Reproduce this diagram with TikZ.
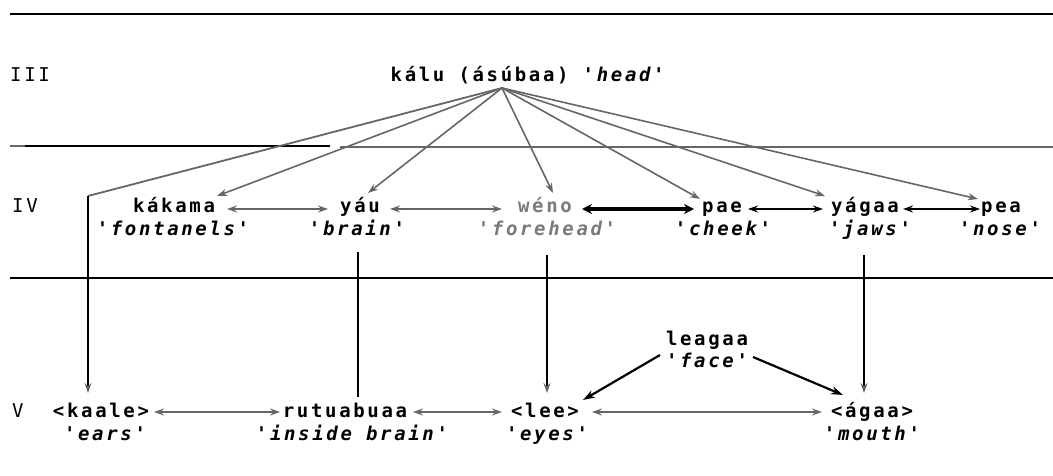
\documentclass[tikz,border=0pt]{standalone}
\usepackage{fontspec}
\newfontfamily\mono[LetterSpace=14,ItalicFont={DejaVu Sans Mono Oblique},BoldFont={DejaVu Sans Mono Bold},BoldItalicFont={DejaVu Sans Mono Bold Oblique}]{DejaVu Sans Mono}
\usetikzlibrary{arrows.meta,calc}
\definecolor{lgray}{HTML}{666666}
\definecolor{tgray}{HTML}{7a7a7a}
\begin{document}
\begin{tikzpicture}[x=1pt,y=-1pt,
  word/.style={anchor=base,inner sep=0pt,font=\mono\bfseries\fontsize{19}{22}\selectfont},
  gloss/.style={anchor=base,inner sep=0pt,font=\mono\bfseries\itshape\fontsize{19}{22}\selectfont},
  lvl/.style={anchor=base west,inner sep=0pt,font=\mono\fontsize{19}{22}\selectfont},
  rule/.style={line width=2.2pt,black},
  grule/.style={line width=1.8pt,lgray},
  garrow/.style={line width=1.6pt,lgray,-{Stealth[length=10pt,width=7pt]}},
  gdarrow/.style={line width=1.6pt,lgray,{Stealth[length=10pt,width=7pt]}-{Stealth[length=10pt,width=7pt]}},
  bdarrow/.style={line width=1.8pt,black,{Stealth[length=10pt,width=7pt]}-{Stealth[length=10pt,width=7pt]}},
  thickdarrow/.style={line width=4.5pt,black,{Stealth[length=10pt,width=10pt]}-{Stealth[length=10pt,width=10pt]}},
  vline/.style={line width=2.2pt,black},
  varrow/.style={line width=2.2pt,black,-{Stealth[length=10pt,width=7pt,lgray]}},
  barrow/.style={line width=2.2pt,black,-{Stealth[length=12pt,width=8pt]}}]
\useasboundingbox (0,0) rectangle (1053,476);
% horizontal rules
\draw[rule] (10,14) -- (1053,14);
\draw[grule] (10,146) -- (25,146);
\draw[rule] (25,146) -- (330,146);
\draw[grule] (340,147) -- (1053,147);
\draw[rule] (10,278) -- (1053,278);
% level labels
\node[lvl] (lIII) at (10,82) {III};
\node[lvl] (lIV) at (12,213) {IV};
\node[lvl] (lV) at (12,417) {V};
% level III
\node[word] (head) at (529,82) {kálu (ásúbaa) \textit{'head'}};
\coordinate (apex) at (502,88);
% level IV
\node[word] (kakama) at (174,213) {kákama};
\node[gloss] (gkakama) at (173,236) {'fontanels'};
\node[word] (yau) at (360,213) {yáu};
\node[gloss] (gyau) at (357,236) {'brain'};
\node[word,text=tgray] (weno) at (545,213) {wéno};
\node[gloss,text=tgray] (gweno) at (547,236) {'forehead'};
\node[word] (pae) at (722,213) {pae};
\node[gloss] (gpae) at (723,236) {'cheek'};
\node[word] (yagaa) at (865,213) {yágaa};
\node[gloss] (gyagaa) at (870,236) {'jaws'};
\node[word] (pea) at (1001,213) {pea};
\node[gloss] (gpea) at (1000,236) {'nose'};
% level V
\node[word] (kaale) at (101,417) {<kaale>};
\node[gloss] (gkaale) at (105,440) {'ears'};
\node[word] (rutu) at (345,417) {rutuabuaa};
\node[gloss] (grutu) at (352,440) {'inside brain'};
\node[word] (lee) at (545,417) {<lee>};
\node[gloss] (glee) at (547,440) {'eyes'};
\node[word] (agaa) at (872,417) {<ágaa>};
\node[gloss] (gagaa) at (872,440) {'mouth'};
\node[word] (leagaa) at (707,345) {leagaa};
\node[gloss] (gleagaa) at (707,367) {'face'};
% arrows from head
\coordinate (kc) at (88,196);
\draw[line width=1.8pt,lgray] (apex) -- (kc);
\draw[varrow] (kc) -- (kc |- 0,393);
\draw[garrow] (apex) -- ($(kakama.base)+(43,-17)$);
\draw[garrow] (apex) -- ($(yau.base)+(8,-20)$);
\draw[garrow] (apex) -- ($(weno.base)+(8,-20)$);
\draw[garrow] (apex) -- ($(pae.base)+(-22,-14)$);
\draw[garrow] (apex) -- ($(yagaa.base)+(-40,-17)$);
\draw[garrow] (apex) -- ($(pea.base)+(-23,-14)$);
% level IV horizontal
\draw[gdarrow] ($(kakama.base)+(53,-4)$) -- ($(yau.base)+(-32,-4)$);
\draw[gdarrow] ($(yau.base)+(30,-4)$) -- ($(weno.base)+(-43,-4)$);
\draw[thickdarrow] ($(weno.base)+(37,-4)$) -- ($(pae.base)+(-28,-4)$);
\draw[bdarrow] ($(pae.base)+(26,-4)$) -- ($(yagaa.base)+(-42,-4)$);
\draw[bdarrow] ($(yagaa.base)+(38,-4)$) -- ($(pea.base)+(-21,-4)$);
% IV to V
\draw[vline] (358,252) -- (358,397);
\draw[varrow] (547,255) -- (547,393);
\draw[varrow] (864,255) -- (864,393);
% level V horizontal
\draw[gdarrow] ($(kaale.base)+(53,-5)$) -- ($(rutu.base)+(-65,-5)$);
\draw[gdarrow] ($(rutu.base)+(68,-5)$) -- ($(lee.base)+(-43,-5)$);
\draw[gdarrow,line width=2.2pt] ($(lee.base)+(47,-5)$) -- ($(agaa.base)+(-50,-5)$);
% face arrows
\draw[barrow] ($(gleagaa.base)+(-47,-12)$) -- ($(lee.base)+(38,-17)$);
\draw[barrow] ($(gleagaa.base)+(46,-10)$) -- ($(agaa.base)+(-29,-22)$);
\end{tikzpicture}
\end{document}
